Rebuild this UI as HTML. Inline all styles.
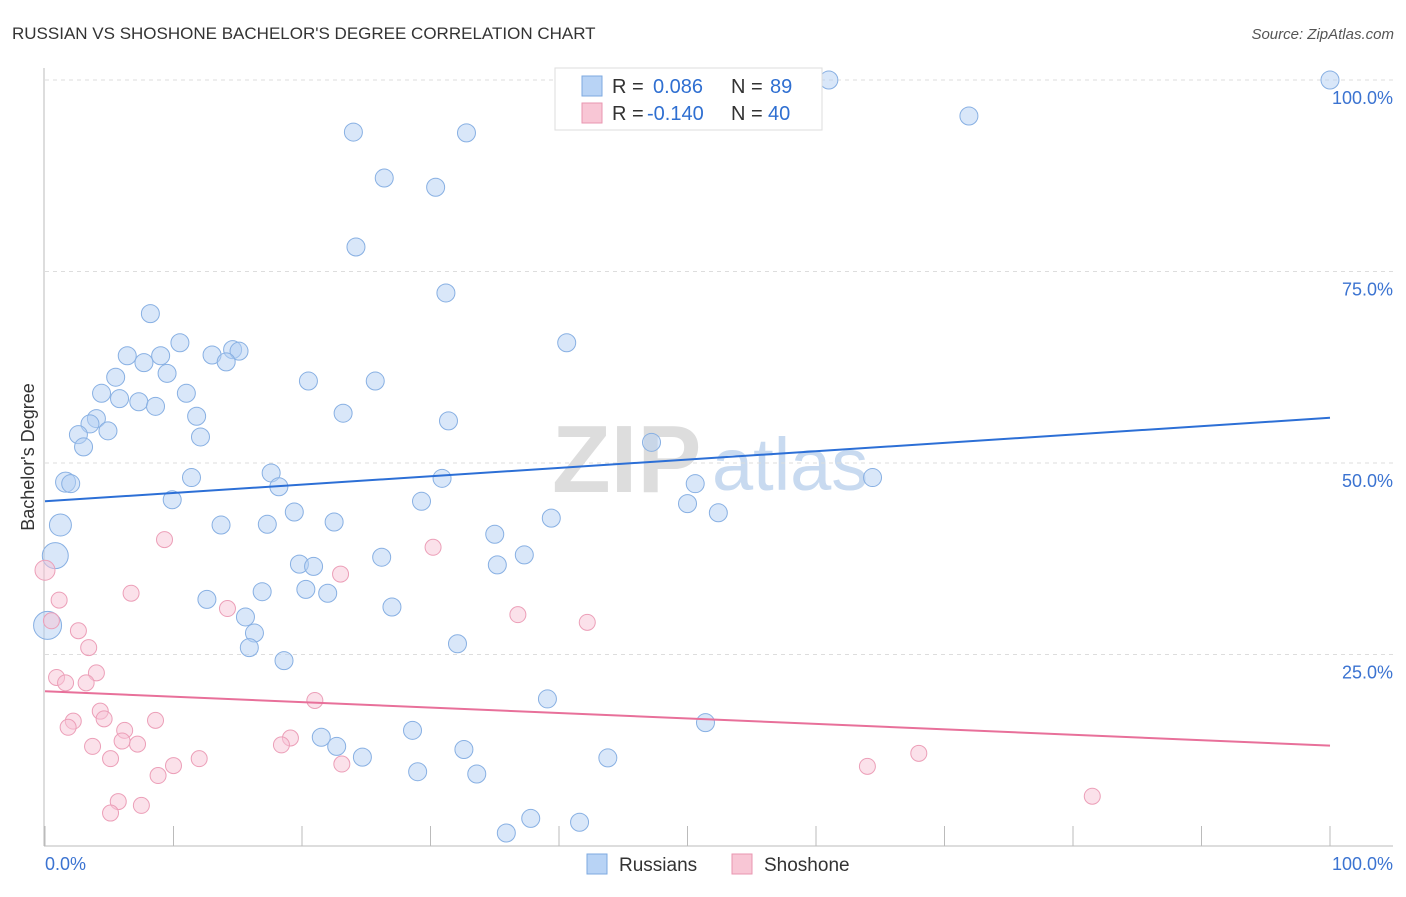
<!DOCTYPE html>
<html><head><meta charset="utf-8"><style>
body{margin:0;background:#fff;font-family:"Liberation Sans",sans-serif;}
svg text{font-family:"Liberation Sans",sans-serif;}
</style></head><body>
<svg id="chart" width="1406" height="892" xmlns="http://www.w3.org/2000/svg">
<text x="12" y="39" font-size="17" fill="#333">RUSSIAN VS SHOSHONE BACHELOR'S DEGREE CORRELATION CHART</text>
<text x="1394" y="39" font-size="15" fill="#555" font-style="italic" text-anchor="end">Source: ZipAtlas.com</text>
<g>
<text x="552" y="492" font-size="96" fill="#ddd" font-family="Liberation Serif" font-weight="bold">ZIP</text>
<text x="712" y="490" font-size="74" fill="#c8daf0">atlas</text>
</g>
<g id="grid"></g>
<g id="axes"></g>
<text transform="translate(34,457) rotate(-90)" font-size="18" fill="#333" text-anchor="middle">Bachelor's Degree</text>
<g id="pts"></g>
<g id="trends"></g>
<g>
<rect x="555" y="68" width="267" height="62" fill="#fff" stroke="#ddd"/>
<rect x="582" y="76" width="20" height="20" fill="#b8d3f5" stroke="#7ea9e0"/>
<rect x="582" y="103" width="20" height="20" fill="#f8c6d5" stroke="#e996b0"/>
<text x="612" y="93" font-size="20" fill="#333">R = <tspan fill="#2f6fd1" x="653">0.086</tspan><tspan x="731" fill="#333">N = </tspan><tspan fill="#2f6fd1" x="770">89</tspan></text>
<text x="612" y="120" font-size="20" fill="#333">R = <tspan fill="#2f6fd1" x="647">-0.140</tspan><tspan x="731" fill="#333">N = </tspan><tspan fill="#2f6fd1" x="768">40</tspan></text>
</g>
<g>
<rect x="587" y="854" width="20" height="20" fill="#b8d3f5" stroke="#7ea9e0"/>
<text x="619" y="871" font-size="19" fill="#333">Russians</text>
<rect x="732" y="854" width="20" height="20" fill="#f8c6d5" stroke="#e996b0"/>
<text x="764" y="871" font-size="19" fill="#333">Shoshone</text>
</g>
</svg>
<script>
const yTicks=[25,50,75,100];
const yTickLabels=["25.0%","50.0%","75.0%","100.0%"];
const xTickLabels=["0.0%","100.0%"];
const russiansX=[100,61,59.5,71.9,24,32.8,26.4,30.4,24.2,31.2,8.2,40.6,10.5,6.4,9,13,14.6,15.1,7.7,14.1,9.5,5.5,20.5,25.7,4.4,11,5.8,7.3,8.6,23.2,11.8,4,3.5,31.4,4.9,2.6,12.1,3,47.2,11.4,17.6,64.4,1.6,2,30.9,18.2,50.6,9.9,29.3,1.2,50,19.4,52.4,39.4,13.7,17.3,22.5,35,0.8,26.2,37.3,35.2,19.8,20.9,20.3,22,16.9,12.6,27,15.6,16.3,15.9,32.1,0.2,18.6,39.1,51.4,28.6,21.5,22.7,32.6,24.7,43.8,29,33.6,37.8,41.6,35.9];
const russiansY=[100,100,100,95.3,93.2,93.1,87.2,86,78.2,72.2,69.5,65.7,65.7,64,64,64.1,64.8,64.6,63.1,63.2,61.7,61.2,60.7,60.7,59.1,59.1,58.4,58,57.4,56.5,56.1,55.8,55.1,55.5,54.2,53.7,53.4,52.1,52.7,48.1,48.7,48.1,47.5,47.3,48,46.9,47.3,45.2,45,41.9,44.7,43.6,43.5,42.8,41.9,42,42.3,40.7,37.9,37.7,38,36.7,36.8,36.5,33.5,33,33.2,32.2,31.2,29.9,27.8,25.9,26.4,28.8,24.2,19.2,16.1,15.1,14.2,13,12.6,11.6,11.5,9.7,9.4,3.6,3.1,1.7];
const russiansR=[9,9,9,9,9,9,9,9,9,9,9,9,9,9,9,9,9,9,9,9,9,9,9,9,9,9,9,9,9,9,9,9,9,9,9,9,9,9,9,9,9,9,10,9,9,9,9,9,9,11,9,9,9,9,9,9,9,9,13,9,9,9,9,9,9,9,9,9,9,9,9,9,9,14,9,9,9,9,9,9,9,9,9,9,9,9,9,9];
const shoshoneX=[0,1.1,0.5,2.6,3.4,6.7,9.3,30.2,23,14.2,36.8,42.2,4,0.9,1.6,3.2,21,4.3,2.2,1.8,4.6,8.6,6.2,6,3.7,19.1,18.4,7.2,5.1,12,10,8.8,23.1,68.0,64,81.5,5.7,7.5,5.1];
const shoshoneY=[36,32.1,29.4,28.1,25.9,33,40,39,35.5,31,30.2,29.2,22.6,22,21.3,21.3,19,17.6,16.3,15.5,16.6,16.4,15.1,13.7,13,14.1,13.2,13.3,11.4,11.4,10.5,9.2,10.7,12.1,10.4,6.5,5.8,5.3,4.3];
const trendRussians=[45,55.9];
const trendShoshone=[20.2,13.1];
const X0=45,X1=1330,Y0=846,Y100=80;
const sx=v=>X0+(X1-X0)*v/100, sy=v=>Y0-(Y0-Y100)*v/100;
const NS="http://www.w3.org/2000/svg";
function mk(p,tag,a){const e=document.createElementNS(NS,tag);for(const k in a)e.setAttribute(k,a[k]);p.appendChild(e);return e;}
const grid=document.getElementById('grid'),axes=document.getElementById('axes');
yTicks.forEach((t,i)=>{
 const l=mk(grid,'line',{x1:45,x2:1393,y1:sy(t),y2:sy(t),stroke:'#ddd','stroke-dasharray':'4,4'});
 
 
 const tx=mk(axes,'text',{x:1393,y:sy(t)+24,'font-size':18,fill:'#3b73d1','text-anchor':'end'});
 tx.textContent=yTickLabels[i];
 
 
});
let a=mk(axes,'line',{x1:44,x2:44,y1:68,y2:846,stroke:'#bbb'});


a=mk(axes,'line',{x1:44,x2:1393,y1:846,y2:846,stroke:'#bbb'});


for(let i=0;i<=10;i++){
 const t=mk(axes,'line',{x1:sx(i*10),x2:sx(i*10),y1:826,y2:846,stroke:'#bbb'});
 
 
}
[[0,'start'],[100,'end']].forEach((p,i)=>{
 const tx=mk(axes,'text',{x:i?1393:45,y:870,'font-size':18,fill:'#3b73d1','text-anchor':p[1]});
 tx.textContent=xTickLabels[i];
 
 
});
const pts=document.getElementById('pts');
russiansX.forEach((x,i)=>{
 const c=mk(pts,'circle',{cx:sx(x),cy:sy(russiansY[i]),r:russiansR[i],fill:'rgba(180,208,244,0.5)',stroke:'#88b0e3','stroke-width':1});
 
 
});
shoshoneX.forEach((x,i)=>{
 const c=mk(pts,'circle',{cx:sx(x),cy:sy(shoshoneY[i]),r:i==0?10:8,fill:'rgba(248,196,214,0.5)',stroke:'#ec9fb8','stroke-width':1});
 
 
});
const tr=document.getElementById('trends');
let l=mk(tr,'line',{x1:sx(0),x2:sx(100),y1:sy(trendRussians[0]),y2:sy(trendRussians[1]),stroke:'#2c6fd6','stroke-width':2});


l=mk(tr,'line',{x1:sx(0),x2:sx(100),y1:sy(trendShoshone[0]),y2:sy(trendShoshone[1]),stroke:'#e8709a','stroke-width':2});


</script>
</body></html>
